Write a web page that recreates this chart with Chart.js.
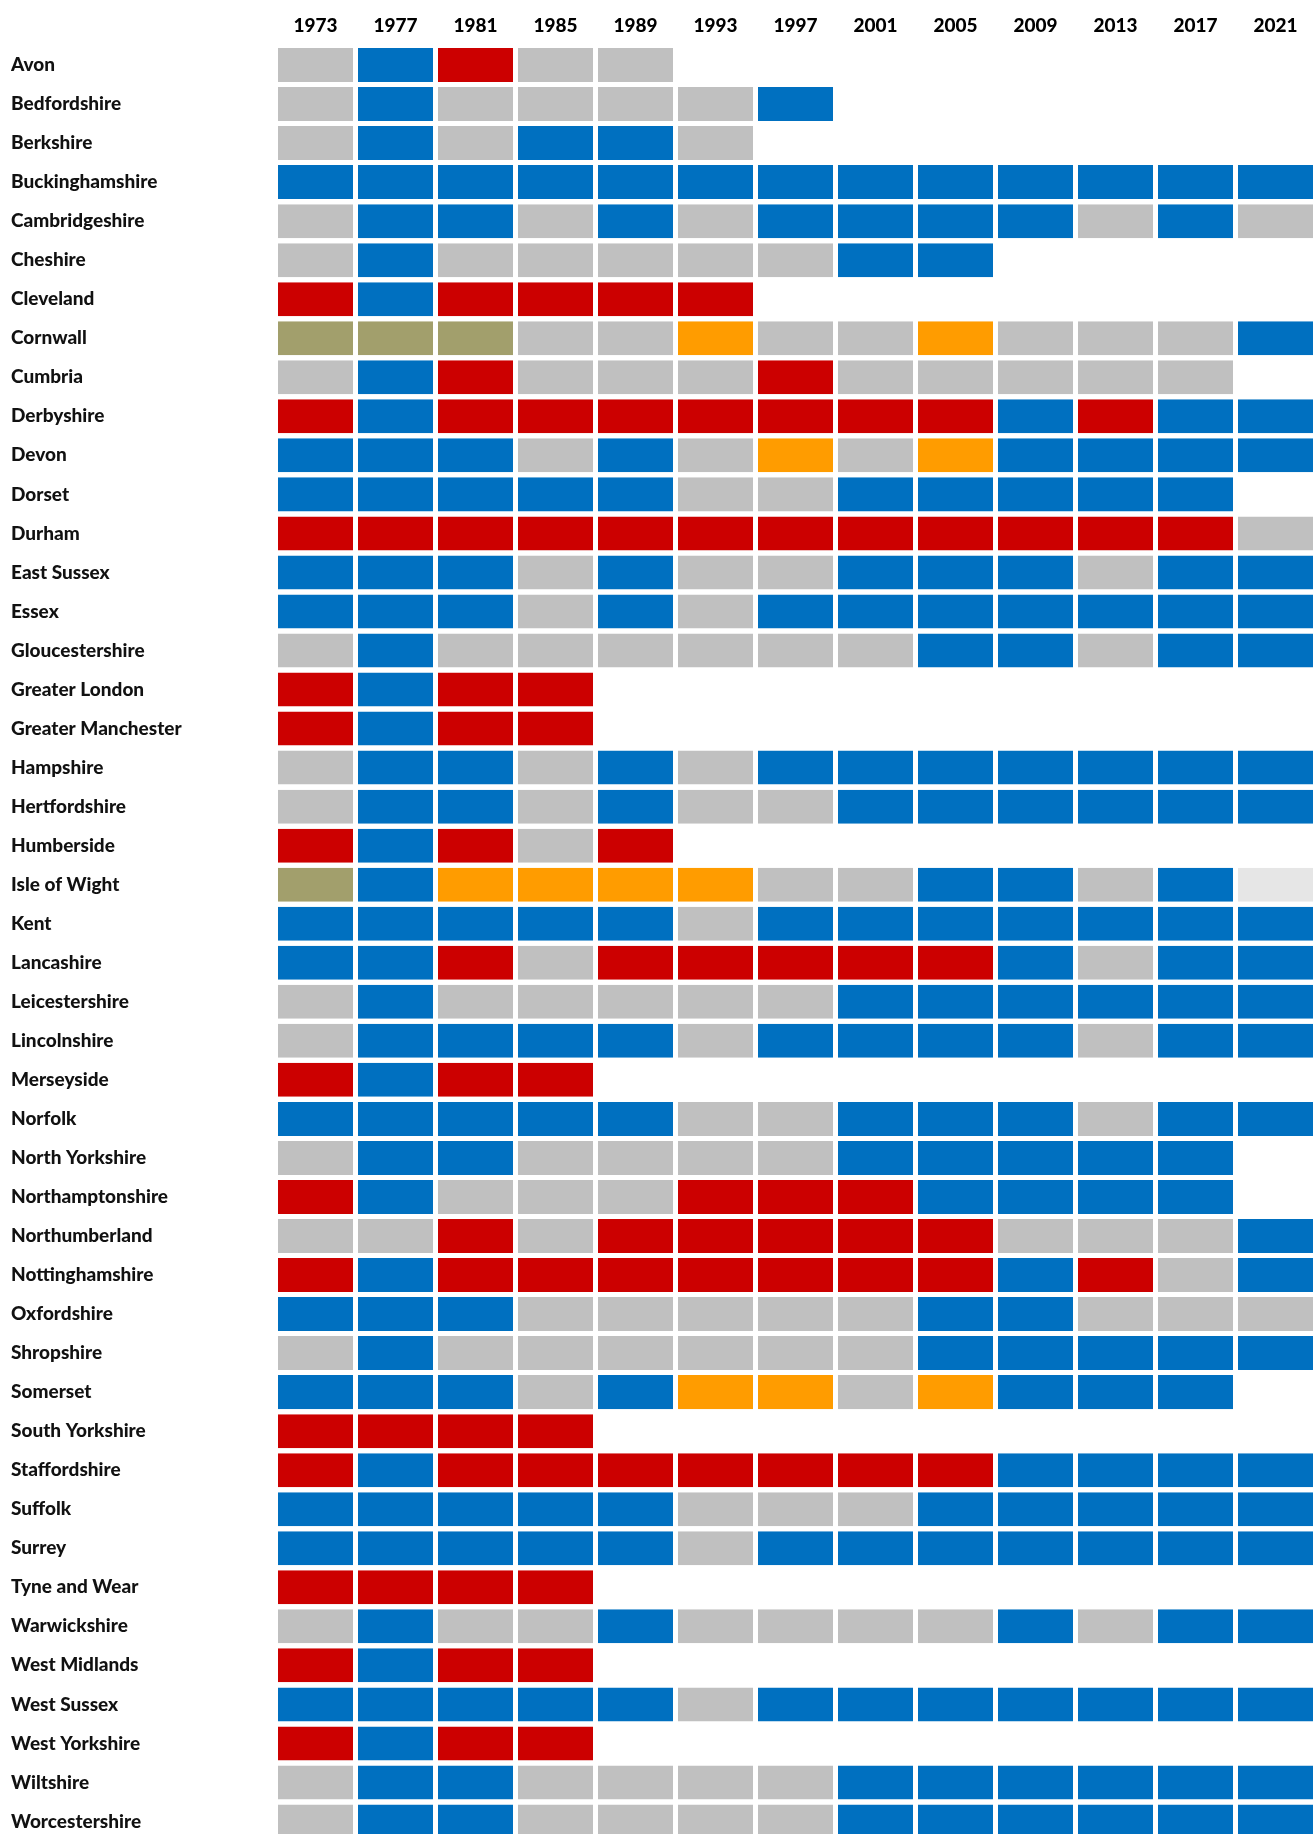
<!DOCTYPE html>
<html><head><meta charset="utf-8">
<script src="https://cdn.jsdelivr.net/npm/chart.js@4.4.1/dist/chart.umd.min.js"></script>
<style>
html,body{margin:0;padding:0;background:#fff;overflow:hidden;width:1313px;height:1834px;}
#wrap{position:relative;width:1313px;height:1834px;overflow:hidden;}
canvas{position:absolute;left:0;top:0;display:block;}
</style></head><body>
<div id="wrap"><canvas id="c" width="1313" height="1841"></canvas></div>
<script>
// Election years (columns)
const years = ['1973','1977','1981','1985','1989','1993','1997','2001','2005','2009','2013','2017','2021'];

// Counties (rows)
const counties = ['Avon','Bedfordshire','Berkshire','Buckinghamshire','Cambridgeshire','Cheshire','Cleveland','Cornwall','Cumbria','Derbyshire','Devon','Dorset','Durham','East Sussex','Essex','Gloucestershire','Greater London','Greater Manchester','Hampshire','Hertfordshire','Humberside','Isle of Wight','Kent','Lancashire','Leicestershire','Lincolnshire','Merseyside','Norfolk','North Yorkshire','Northamptonshire','Northumberland','Nottinghamshire','Oxfordshire','Shropshire','Somerset','South Yorkshire','Staffordshire','Suffolk','Surrey','Tyne and Wear','Warwickshire','West Midlands','West Sussex','West Yorkshire','Wiltshire','Worcestershire'];

// Control after each election, one letter per year:
// C = Conservative, L = Labour, D = Liberal / Lib Dem, I = Independent, N = No overall control, X = other
const control = [
  'NCLNN',          // Avon
  'NCNNNNC',        // Bedfordshire
  'NCNCCN',         // Berkshire
  'CCCCCCCCCCCCC',  // Buckinghamshire
  'NCCNCNCCCCNCN',  // Cambridgeshire
  'NCNNNNNCC',      // Cheshire
  'LCLLLL',         // Cleveland
  'IIINNDNNDNNNC',  // Cornwall
  'NCLNNNLNNNNN',   // Cumbria
  'LCLLLLLLLCLCC',  // Derbyshire
  'CCCNCNDNDCCCC',  // Devon
  'CCCCCNNCCCCC',   // Dorset
  'LLLLLLLLLLLLN',  // Durham
  'CCCNCNNCCCNCC',  // East Sussex
  'CCCNCNCCCCCCC',  // Essex
  'NCNNNNNNCCNCC',  // Gloucestershire
  'LCLL',           // Greater London
  'LCLL',           // Greater Manchester
  'NCCNCNCCCCCCC',  // Hampshire
  'NCCNCNNCCCCCC',  // Hertfordshire
  'LCLNL',          // Humberside
  'ICDDDDNNCCNCX',  // Isle of Wight
  'CCCCCNCCCCCCC',  // Kent
  'CCLNLLLLLCNCC',  // Lancashire
  'NCNNNNNCCCCCC',  // Leicestershire
  'NCCCCNCCCCNCC',  // Lincolnshire
  'LCLL',           // Merseyside
  'CCCCCNNCCCNCC',  // Norfolk
  'NCCNNNNCCCCC',   // North Yorkshire
  'LCNNNLLLCCCC',   // Northamptonshire
  'NNLNLLLLLNNNC',  // Northumberland
  'LCLLLLLLLCLNC',  // Nottinghamshire
  'CCCNNNNNCCNNN',  // Oxfordshire
  'NCNNNNNNCCCCC',  // Shropshire
  'CCCNCDDNDCCC',   // Somerset
  'LLLL',           // South Yorkshire
  'LCLLLLLLLCCCC',  // Staffordshire
  'CCCCCNNNCCCCC',  // Suffolk
  'CCCCCNCCCCCCC',  // Surrey
  'LLLL',           // Tyne and Wear
  'NCNNCNNNNCNCC',  // Warwickshire
  'LCLL',           // West Midlands
  'CCCCCNCCCCCCC',  // West Sussex
  'LCLL',           // West Yorkshire
  'NCCNNNNCCCCCC',  // Wiltshire
  'NCCNNNNCCCCCC'   // Worcestershire
];

const partyColors = { C:'#0070c0', L:'#cc0000', D:'#ff9c00', I:'#a29f6c', N:'#c0c0c0', X:'#e6e6e6' };

const CELL_W_FRAC = 75/80;
const datasets = years.map((yr, j) => ({
  label: yr,
  data: counties.map((c, i) => control[i][j] ? 1 : null),
  backgroundColor: counties.map((c, i) => partyColors[control[i][j]] || 'rgba(0,0,0,0)'),
  borderColor: '#ffffff',
  borderWidth: { top: 0, bottom: 0, left: 0, right: 5 },
  borderSkipped: false,
  inflateAmount: 0,
  categoryPercentage: 1,
  barPercentage: 34/39.03
}));

new Chart(document.getElementById('c'), {
  type: 'bar',
  data: { labels: counties, datasets },
  options: {
    indexAxis: 'y',
    responsive: false,
    maintainAspectRatio: false,
    animation: false,
    devicePixelRatio: 1,
    layout: { padding: { left: 11, top: 0, right: 0, bottom: 0 } },
    plugins: { legend: { display: false }, tooltip: { enabled: false } },
    scales: {
      x: {
        type: 'linear',
        position: 'top',
        stacked: true,
        min: 0,
        max: years.length - (1 - CELL_W_FRAC),
        grid: { display: false },
        border: { display: false },
        ticks: {
          autoSkip: false,
          maxRotation: 0,
          padding: 0,
          color: '#000',
          font: { family: 'Lato', weight: 900, size: 19 },
          callback: (v, idx) => years[idx]
        },
        afterBuildTicks: (scale) => {
          scale.ticks = years.map((y, j) => ({ value: j + CELL_W_FRAC / 2 }));
        },
        afterFit: (scale) => { scale.height = 45.5; scale.paddingLeft = 0; scale.paddingRight = 0; }
      },
      y: {
        type: 'category',
        stacked: true,
        grid: { display: false },
        border: { display: false },
        ticks: {
          autoSkip: false,
          crossAlign: 'far',
          padding: 0,
          color: '#111',
          font: { family: 'Lato', weight: 900, size: 19 }
        },
        afterFit: (scale) => { scale.width = 278 - 11; scale.paddingTop = 0; scale.paddingBottom = 0; }
      }
    }
  }
});
</script>
</body></html>
